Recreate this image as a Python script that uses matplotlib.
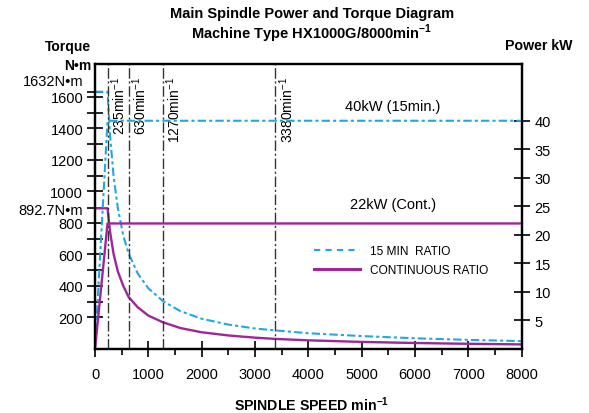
import matplotlib
matplotlib.use('Agg')
import matplotlib.pyplot as plt
import matplotlib.transforms as mtransforms
from matplotlib.lines import Line2D

plt.rcParams['font.family'] = ['Liberation Sans', 'DejaVu Sans']
plt.rcParams['mathtext.fontset'] = 'custom'
plt.rcParams['mathtext.rm'] = 'Liberation Sans'
plt.rcParams['mathtext.bf'] = 'Liberation Sans:bold'

# torque curves (N*m vs min^-1)
speed = [0, 235, 280, 350, 430, 530, 630, 800, 1000, 1270, 1600, 2000,
         2500, 3000, 3380, 4000, 5000, 6000, 7000, 8000]
torque_15min = [1632, 1632, 1365, 1090, 890, 720, 606, 480, 385, 305, 240, 192,
                155, 130, 118, 100, 82, 68, 58, 50]
torque_cont = [892.7, 892.7, 750, 600, 490, 400, 330, 265, 212, 170, 133, 106,
               86, 72, 64, 55, 45, 38, 33, 29]

# power curves (kW)
power_speed = [0, 235, 8000]
power_15min = [0, 40, 40]
power_cont = [0, 22, 22]

# marked speeds
marks = [235, 630, 1270, 3380]

torque_ticks = [200, 400, 600, 800, 892.7, 1000, 1200, 1400, 1600, 1632]
torque_labels = ['200', '400', '600', '800', '892.7N\u2022m', '1000', '1200',
                 '1400', '1600', '']
torque_minor = [300, 500, 700, 1100, 1300, 1500]
power_ticks = [5, 10, 15, 20, 25, 30, 35, 40]
speed_ticks = [0, 1000, 2000, 3000, 4000, 5000, 6000, 7000, 8000]
speed_minor = [500, 1500, 2500, 3500, 4500, 5500, 6500, 7500]

CYAN = '#1FA8E6'
PURPLE = '#A0259A'
GREY = '#333333'

fig = plt.figure(figsize=(5.89, 4.14), dpi=100)
ax = fig.add_axes([95 / 589, 1 - 350 / 414, (521.7 - 95) / 589, (350 - 64.7) / 414])
ax2 = ax.twinx()

ax.set_xlim(0, 8000)
ax.set_ylim(0, 1810)
ax2.set_ylim(0, 50)

ax.plot(speed, torque_15min, color=CYAN, lw=1.5, dashes=(4, 1.5, 1.5, 1.5))
ax.plot(speed, torque_cont, color=PURPLE, lw=1.7)
ax2.plot(power_speed, power_15min, color=CYAN, lw=1.5, dashes=(4, 1.5, 1.5, 1.5))
ax2.plot(power_speed, power_cont, color=PURPLE, lw=1.7)

# vertical speed markers + rotated labels
mark_tr = mtransforms.blended_transform_factory(ax.transData, ax.transAxes)
mark_tr = mtransforms.offset_copy(mark_tr, fig=fig, x=11, y=0, units='dots')
for m in marks:
    ax.axvline(m, color=GREY, lw=1, dashes=(7.5, 2, 1.5, 2))
    ax.text(m, 0.957, '%dmin$^{-1}$' % m, transform=mark_tr, rotation=90,
            ha='center', va='top', fontsize=10)

# ticks
ax.set_xticks(speed_ticks)
ax.set_xticks(speed_minor, minor=True)
ax.set_yticks(torque_ticks)
ax.set_yticklabels(torque_labels)
ax.set_yticks(torque_minor, minor=True)
ax2.set_yticks(power_ticks)

ax.tick_params(axis='x', which='major', direction='inout', length=11, width=1.2,
               pad=7.5, labelsize=10.5)
ax.tick_params(axis='x', which='minor', direction='out', length=4.5, width=1.2)
ax.tick_params(axis='y', which='both', direction='inout', length=11, width=1.2,
               pad=3, labelsize=10.5)
ax2.tick_params(axis='y', direction='inout', length=11.5, width=1.2, pad=3.6,
                labelsize=10.5)

# 1632 label sits a bit above its tick, as in the drawing
ax.annotate('1632N\u2022m', xy=(0, 1632), xycoords=('axes fraction', 'data'),
            xytext=(-8.5, 7.5), textcoords='offset points', ha='right',
            va='center', fontsize=10.5)

for a in (ax, ax2):
    for s in a.spines.values():
        s.set_linewidth(1.6)

# in-plot notes
ax2.text(5590, 42.5, '40kW (15min.)', ha='center', va='center', fontsize=10.5)
ax2.text(5590, 25.4, '22kW (Cont.)', ha='center', va='center', fontsize=10.5)

handles = [Line2D([], [], color=CYAN, lw=1.5, dashes=(3, 2.5)),
           Line2D([], [], color=PURPLE, lw=2.2)]
ax2.legend(handles, ['15 MIN  RATIO', 'CONTINUOUS RATIO'], loc='center left',
           bbox_to_anchor=(0.513, 0.3095), bbox_transform=ax.transAxes,
           frameon=False, borderpad=0, borderaxespad=0, handlelength=3.9,
           handletextpad=0.8, labelspacing=0.55, prop={'size': 8.6})

# titles and axis captions
fig.text(312 / 589, 1 - 14 / 414, 'Main Spindle Power and Torque Diagram',
         ha='center', va='center', fontsize=10.5, fontweight='bold')
fig.text(312 / 589, 1 - 34 / 414, 'Machine Type HX1000G/8000min$^{\\mathbf{-1}}$',
         ha='center', va='center', fontsize=10.5, fontweight='bold')
fig.text(91 / 589, 1 - 46.5 / 414, 'Torque', ha='right', va='center',
         fontsize=10, fontweight='bold')
fig.text(91 / 589, 1 - 65.5 / 414, 'N\u2022m', ha='right', va='center',
         fontsize=10, fontweight='bold')
fig.text(539 / 589, 1 - 46.5 / 414, 'Power kW', ha='center', va='center',
         fontsize=10.2, fontweight='bold')
fig.text(312 / 589, 1 - 405 / 414, 'SPINDLE SPEED min$^{\\mathbf{-1}}$',
         ha='center', va='center', fontsize=10.2, fontweight='bold')

fig.savefig('out.png', dpi=100)
